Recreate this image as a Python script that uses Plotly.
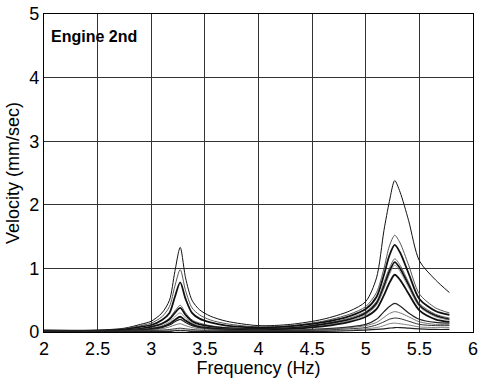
import plotly.graph_objects as go

freq = [2.0, 2.5, 2.75, 2.9, 3.0, 3.1, 3.17, 3.22, 3.27, 3.32, 3.38, 3.45, 3.55, 3.7,
        4.0, 4.3, 4.6, 4.85, 5.0, 5.1, 5.17, 5.22, 5.27, 5.32, 5.4, 5.5, 5.65, 5.78]

s1 = [0.03, 0.03, 0.06, 0.12, 0.17, 0.30, 0.50, 0.95, 1.33, 0.85, 0.50, 0.35, 0.25, 0.17,
      0.10, 0.12, 0.20, 0.33, 0.48, 0.85, 1.60, 2.05, 2.38, 2.20, 1.75, 1.12, 0.82, 0.62]
s2 = [0.02, 0.02, 0.05, 0.10, 0.14, 0.24, 0.40, 0.72, 0.98, 0.65, 0.38, 0.27, 0.19, 0.13,
      0.08, 0.10, 0.17, 0.28, 0.40, 0.62, 1.00, 1.35, 1.52, 1.40, 1.05, 0.60, 0.38, 0.30]
s3 = [0.02, 0.02, 0.04, 0.08, 0.11, 0.19, 0.30, 0.55, 0.78, 0.52, 0.30, 0.21, 0.15, 0.10,
      0.07, 0.09, 0.15, 0.25, 0.36, 0.55, 0.90, 1.20, 1.37, 1.25, 0.92, 0.52, 0.33, 0.27]
s4 = [0.01, 0.01, 0.03, 0.06, 0.09, 0.14, 0.22, 0.33, 0.42, 0.30, 0.19, 0.14, 0.10, 0.07,
      0.05, 0.07, 0.13, 0.22, 0.32, 0.48, 0.78, 1.00, 1.15, 1.05, 0.78, 0.45, 0.28, 0.22]
s5 = [0.01, 0.01, 0.03, 0.05, 0.08, 0.13, 0.20, 0.30, 0.38, 0.27, 0.17, 0.12, 0.09, 0.06,
      0.05, 0.06, 0.12, 0.20, 0.30, 0.45, 0.72, 0.95, 1.10, 1.00, 0.74, 0.42, 0.26, 0.20]
s6 = [0.01, 0.01, 0.02, 0.04, 0.06, 0.10, 0.16, 0.24, 0.30, 0.22, 0.14, 0.10, 0.07, 0.05,
      0.04, 0.05, 0.10, 0.18, 0.27, 0.42, 0.68, 0.90, 1.05, 0.95, 0.70, 0.40, 0.24, 0.19]
s7 = [0.01, 0.01, 0.02, 0.03, 0.05, 0.08, 0.13, 0.19, 0.24, 0.18, 0.12, 0.08, 0.06, 0.04,
      0.03, 0.05, 0.09, 0.16, 0.24, 0.36, 0.58, 0.77, 0.90, 0.82, 0.60, 0.34, 0.20, 0.16]
s8 = [0.01, 0.01, 0.02, 0.03, 0.04, 0.07, 0.11, 0.16, 0.20, 0.15, 0.10, 0.07, 0.05, 0.03,
      0.02, 0.03, 0.05, 0.08, 0.12, 0.20, 0.32, 0.40, 0.45, 0.41, 0.30, 0.20, 0.15, 0.14]
s9 = [0.01, 0.01, 0.01, 0.02, 0.03, 0.05, 0.08, 0.11, 0.13, 0.10, 0.07, 0.05, 0.04, 0.03,
      0.02, 0.03, 0.04, 0.07, 0.10, 0.15, 0.23, 0.29, 0.32, 0.30, 0.24, 0.16, 0.12, 0.12]
s10 = [0.01, 0.01, 0.01, 0.01, 0.02, 0.03, 0.04, 0.05, 0.06, 0.05, 0.04, 0.03, 0.02, 0.02,
       0.02, 0.02, 0.03, 0.05, 0.07, 0.11, 0.16, 0.20, 0.22, 0.21, 0.17, 0.12, 0.10, 0.10]
s11 = [0.005, 0.005, 0.01, 0.01, 0.01, 0.02, 0.02, 0.03, 0.03, 0.03, 0.02, 0.02, 0.02, 0.01,
       0.01, 0.01, 0.02, 0.03, 0.05, 0.07, 0.10, 0.13, 0.14, 0.13, 0.11, 0.08, 0.07, 0.07]
s12 = [0.005, 0.005, 0.005, 0.01, 0.01, 0.01, 0.01, 0.02, 0.02, 0.02, 0.01, 0.01, 0.01, 0.01,
       0.01, 0.01, 0.01, 0.02, 0.03, 0.04, 0.05, 0.06, 0.07, 0.07, 0.06, 0.05, 0.04, 0.04]

series = [s1, s2, s3, s4, s5, s6, s7, s8, s9, s10, s11, s12]
widths = [1.0, 1.0, 1.8, 1.0, 1.8, 0.8, 1.8, 1.2, 0.8, 1.0, 0.8, 1.2]
colors = ["#111", "#555", "#111", "#666", "#111", "#777", "#111", "#222", "#555", "#333", "#666", "#222"]

xticks = [2, 2.5, 3, 3.5, 4, 4.5, 5, 5.5, 6]
xticklabels = ["2", "2.5", "3", "3.5", "4", "4.5", "5", "5.5", "6"]
yticks = [0, 1, 2, 3, 4, 5]

FONT = "Arial, Liberation Sans"

fig = go.Figure()
for s, w, c in zip(series, widths, colors):
    fig.add_trace(go.Scatter(x=freq, y=s, mode="lines",
                             line=dict(color=c, width=w, shape="spline", smoothing=0.8),
                             showlegend=False, hoverinfo="skip"))

axis_common = dict(showline=True, linecolor="black", linewidth=1.2, mirror=True,
                   showgrid=True, gridcolor="#333", gridwidth=1, zeroline=False,
                   automargin=False, ticklabeloverflow="allow",
                   ticks="", tickfont=dict(family=FONT, size=18, color="black"))

fig.update_xaxes(range=[2, 6], tickvals=xticks, ticktext=xticklabels,
                 title=dict(text="Frequency (Hz)", standoff=9,
                            font=dict(family=FONT, size=18, color="black")),
                 **axis_common)
fig.update_yaxes(range=[0, 5], tickvals=yticks,
                 title=dict(text="Velocity (mm/sec)", standoff=4,
                            font=dict(family=FONT, size=18, color="black")),
                 **axis_common)

fig.add_annotation(x=0.012, y=0.93, xref="paper", yref="paper", xanchor="left", yanchor="middle",
                   text="<b>Engine 2nd</b>", showarrow=False,
                   font=dict(family=FONT, size=16, color="black"))

fig.update_layout(width=478, height=378, margin=dict(l=44, r=5, t=14, b=46),
                  plot_bgcolor="white", paper_bgcolor="white")

fig.write_html("out.html")
